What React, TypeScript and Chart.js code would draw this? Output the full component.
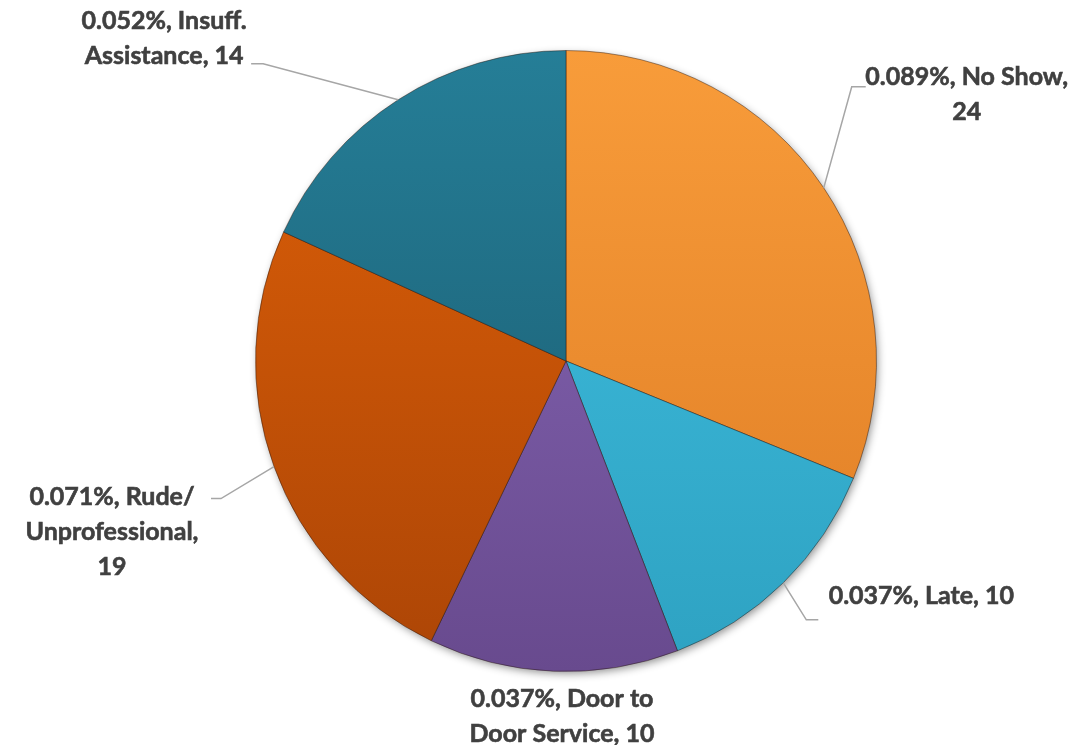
import React, { useEffect, useRef } from "react";
import { Chart, registerables } from "chart.js";

Chart.register(...registerables);

const categories = ["No Show", "Late", "Door to Door Service", "Rude/ Unprofessional", "Insuff. Assistance"];
const counts = [24, 10, 10, 19, 14];
const percents = ["0.089%", "0.037%", "0.037%", "0.071%", "0.052%"];
const labelLines = [
  ["0.089%, No Show,", "24"],
  ["0.037%, Late, 10"],
  ["0.037%, Door to", "Door Service, 10"],
  ["0.071%, Rude/", "Unprofessional,", "19"],
  ["0.052%, Insuff.", "Assistance, 14"],
];
const topColors = ["#F89C3A", "#40C0E1", "#8868B8", "#DE6008", "#257E97"];
const bottomColors = ["#DE7C24", "#2EA2C2", "#684A8E", "#AC4506", "#1A586C"];

// label layout relative to the slice's outer mid point (edge): text centre offset, leader elbow/end offsets
const labelLayout = [
  { tx: 143, ty: -111, line: [[28, -101], [42, -101]] },
  { tx: 138, ty: 13, line: [[23, 37], [35, 37]] },
  { tx: null, ty: null, line: null },
  { tx: -162, ty: 30, line: [[-53, 32], [-63, 32]] },
  { tx: -234, ty: -79, line: [[-135, -36], [-147, -36]] },
];

const FONT = "bold 25px Lato, 'Open Sans', sans-serif";
const LINE_H = 35;

const labelPlugin = {
  id: "sliceLabels",
  afterDatasetsDraw(chart: any) {
    const ctx = chart.ctx;
    const meta = chart.getDatasetMeta(0);
    ctx.save();
    ctx.font = FONT;
    ctx.fillStyle = "#404040";
    ctx.textAlign = "center";
    ctx.textBaseline = "middle";
    meta.data.forEach((arc: any, i: number) => {
      const { x, y, startAngle, endAngle, outerRadius } = arc.getProps(
        ["x", "y", "startAngle", "endAngle", "outerRadius"],
        true
      );
      const mid = (startAngle + endAngle) / 2;
      const ex = x + Math.cos(mid) * outerRadius;
      const ey = y + Math.sin(mid) * outerRadius;
      const lay = labelLayout[i];
      const lines = labelLines[i];
      let cx: number, cy: number;
      if (lay.tx === null) {
        cx = x - 4;
        cy = y + outerRadius + 27;
      } else {
        cx = ex + lay.tx;
        cy = ey + lay.ty;
      }
      if (lay.line) {
        ctx.beginPath();
        ctx.strokeStyle = "#A6A6A6";
        ctx.lineWidth = 1.5;
        ctx.moveTo(ex, ey);
        lay.line.forEach((p: number[]) => ctx.lineTo(ex + p[0], ey + p[1]));
        ctx.stroke();
      }
      ctx.strokeStyle = "#404040";
      ctx.lineWidth = 0.6;
      lines.forEach((t, k) => {
        ctx.fillText(t, cx, cy + k * LINE_H);
        ctx.strokeText(t, cx, cy + k * LINE_H);
      });
    });
    ctx.restore();
  },
};

const shadowPlugin = {
  id: "pieShadow",
  beforeDatasetsDraw(chart: any) {
    const meta = chart.getDatasetMeta(0);
    const arc: any = meta.data[0];
    if (!arc) return;
    const ctx = chart.ctx;
    ctx.save();
    ctx.shadowColor = "rgba(0,0,0,0.45)";
    ctx.shadowBlur = 8;
    ctx.shadowOffsetX = 2;
    ctx.shadowOffsetY = 3;
    ctx.fillStyle = "#888";
    ctx.beginPath();
    ctx.arc(arc.x, arc.y, arc.outerRadius - 1, 0, Math.PI * 2);
    ctx.fill();
    ctx.restore();
  },
};

export default function App() {
  const ref = useRef<HTMLCanvasElement | null>(null);
  useEffect(() => {
    if (!ref.current) return;
    const chart = new Chart(ref.current, {
      type: "pie",
      data: {
        labels: categories,
        datasets: [
          {
            data: counts,
            backgroundColor: (c: any) => {
              const ch = c.chart;
              const area = ch.chartArea;
              const i = c.dataIndex ?? 0;
              if (!area) return topColors[i];
              const g = ch.ctx.createLinearGradient(0, area.top, 0, area.bottom);
              g.addColorStop(0, topColors[i]);
              g.addColorStop(1, bottomColors[i]);
              return g;
            },
            borderColor: "rgba(40,20,10,0.45)",
            borderWidth: 1,
          },
        ],
      },
      options: {
        animation: false,
        responsive: true,
        maintainAspectRatio: false,
        layout: { padding: { top: 50, bottom: 73, left: 255, right: 202 } },
        plugins: {
          legend: { display: false },
          tooltip: { enabled: false },
        },
      },
      plugins: [shadowPlugin, labelPlugin],
    });
    return () => chart.destroy();
  }, []);
  return (
    <div style={{ position: "absolute", left: 0, top: 0, width: 1079, height: 745, background: "#fff" }}>
      <canvas ref={ref} />
    </div>
  );
}
